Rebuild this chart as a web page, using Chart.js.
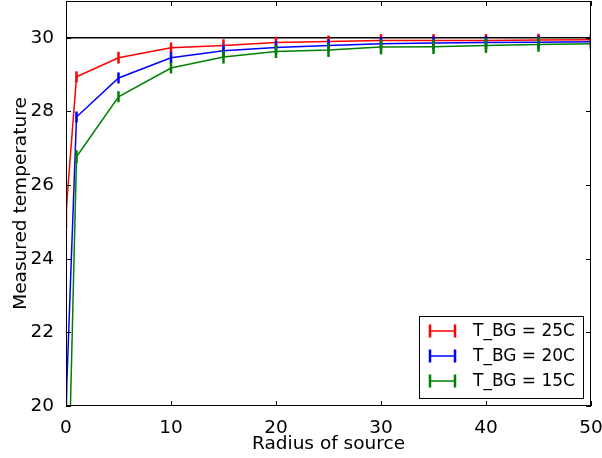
<!DOCTYPE html>
<html>
<head>
<meta charset="utf-8">
<script src="https://cdn.jsdelivr.net/npm/chart.js@4.4.0/dist/chart.umd.min.js"></script>
<style>
  html, body { margin: 0; padding: 0; background: #fff; }
</style>
</head>
<body>
<canvas id="tempChart" width="602" height="458"></canvas>
<script>
/* ================================
   Data
================================ */
const radius = [0, 1, 5, 10, 15, 20, 25, 30, 35, 40, 45, 50];

const temp25 = [25.25, 28.94, 29.46, 29.73, 29.79, 29.87, 29.90, 29.93, 29.93, 29.93, 29.94, 29.95];
const temp20 = [20.0, 27.85, 28.91, 29.46, 29.65, 29.74, 29.79, 29.84, 29.86, 29.87, 29.88, 29.89];
const temp15 = [15.0, 26.77, 28.40, 29.18, 29.48, 29.63, 29.67, 29.75, 29.76, 29.79, 29.82, 29.84];

const err25 = [0.42, 0.15, 0.16, 0.14, 0.17, 0.16, 0.16, 0.17, 0.17, 0.17, 0.17, 0.17];
const err20 = [0.5, 0.15, 0.15, 0.15, 0.17, 0.17, 0.17, 0.18, 0.18, 0.18, 0.18, 0.18];
const err15 = [0.5, 0.18, 0.15, 0.15, 0.18, 0.18, 0.19, 0.20, 0.20, 0.20, 0.20, 0.20];

const refLevel = 30;
const xTicks = [0, 10, 20, 30, 40, 50];
const yTicks = [20, 22, 24, 26, 28, 30];
const seriesLabels = ["T_BG = 25C", "T_BG = 20C", "T_BG = 15C"];

/* ================================
   Helpers
================================ */
const FONT = "'DejaVu Sans', sans-serif";
const toPoints = ys => radius.map((x, i) => ({ x, y: ys[i] }));

function series(label, ys, errs, color, order) {
  return {
    label,
    data: toPoints(ys),
    errors: errs,
    borderColor: color,
    backgroundColor: color,
    borderWidth: 1.5,
    pointRadius: 0,
    tension: 0,
    order
  };
}

// fixed axis box sizes, no overhang padding
function fitBox(prop, size) {
  return s => {
    s[prop] = size;
    s.paddingTop = s.paddingBottom = s.paddingLeft = s.paddingRight = 0;
  };
}

/* ================================
   Plugins
================================ */
const errorBars = {
  id: "errorBars",
  afterDatasetDraw(chart, args) {
    const ds = chart.data.datasets[args.index];
    if (!ds.errors) return;
    const { ctx, chartArea, scales } = chart;
    ctx.save();
    ctx.beginPath();
    ctx.rect(chartArea.left, chartArea.top, chartArea.width, chartArea.height);
    ctx.clip();
    ctx.strokeStyle = ds.borderColor;
    ctx.lineWidth = 2.5;
    ds.data.forEach((p, i) => {
      const px = scales.x.getPixelForValue(p.x);
      ctx.beginPath();
      ctx.moveTo(px, scales.y.getPixelForValue(p.y - ds.errors[i]));
      ctx.lineTo(px, scales.y.getPixelForValue(p.y + ds.errors[i]));
      ctx.stroke();
    });
    ctx.restore();
  }
};

const frameAndLegend = {
  id: "frameAndLegend",
  afterDraw(chart) {
    const { ctx, chartArea: a, scales } = chart;
    ctx.save();

    // frame
    ctx.strokeStyle = "#000";
    ctx.lineWidth = 1;
    ctx.strokeRect(a.left + 0.5, a.top + 0.5, a.width - 1, a.height - 1);

    // inward ticks on all four sides
    const tl = 5;
    ctx.beginPath();
    xTicks.forEach(v => {
      const px = Math.round(scales.x.getPixelForValue(v)) + 0.5;
      ctx.moveTo(px, a.bottom); ctx.lineTo(px, a.bottom - tl);
      ctx.moveTo(px, a.top); ctx.lineTo(px, a.top + tl);
    });
    yTicks.forEach(v => {
      const py = Math.round(scales.y.getPixelForValue(v)) + 0.5;
      ctx.moveTo(a.left, py); ctx.lineTo(a.left + tl, py);
      ctx.moveTo(a.right, py); ctx.lineTo(a.right - tl, py);
    });
    ctx.stroke();

    // legend box (lower right)
    const w = 164, h = 82;
    const bx = a.right - 8 - w, by = a.bottom - 8 - h;
    ctx.fillStyle = "#fff";
    ctx.fillRect(bx, by, w, h);
    ctx.strokeStyle = "#000";
    ctx.lineWidth = 1;
    ctx.strokeRect(bx + 0.5, by + 0.5, w, h);

    ctx.font = "17px " + FONT;
    ctx.textBaseline = "middle";
    ctx.textAlign = "left";
    chart.data.datasets.filter(d => d.errors).forEach((d, i) => {
      const cy = by + 15 + i * 25;
      const x0 = bx + 11, x1 = bx + 36;
      ctx.strokeStyle = d.borderColor;
      ctx.lineWidth = 1.5;
      ctx.beginPath();
      ctx.moveTo(x0, cy); ctx.lineTo(x1, cy);
      ctx.stroke();
      ctx.lineWidth = 2.5;
      ctx.beginPath();
      ctx.moveTo(x0, cy - 6.5); ctx.lineTo(x0, cy + 6.5);
      ctx.moveTo(x1, cy - 6.5); ctx.lineTo(x1, cy + 6.5);
      ctx.stroke();
      ctx.fillStyle = "#000";
      ctx.fillText(d.label, bx + 54, cy + 1);
    });

    ctx.restore();
  }
};

/* ================================
   Chart
================================ */
new Chart(document.getElementById("tempChart"), {
  type: "line",
  data: {
    datasets: [
      series(seriesLabels[0], temp25, err25, "#ff0000", 3),
      series(seriesLabels[1], temp20, err20, "#0000ff", 2),
      series(seriesLabels[2], temp15, err15, "#008000", 1),
      {
        label: "ref",
        data: [{ x: 0, y: refLevel }, { x: 50, y: refLevel }],
        borderColor: "#000",
        borderWidth: 1.5,
        pointRadius: 0,
        order: 4
      }
    ]
  },
  options: {
    responsive: false,
    animation: false,
    devicePixelRatio: 1,
    layout: { padding: { top: 1, right: 11, left: 0, bottom: 0 } },
    plugins: { legend: { display: false }, tooltip: { enabled: false } },
    scales: {
      x: {
        type: "linear",
        min: 0,
        max: 50,
        afterBuildTicks: s => { s.ticks = xTicks.map(v => ({ value: v })); },
        afterFit: fitBox("height", 52),
        grid: { display: false },
        border: { display: false },
        ticks: { color: "#000", padding: 3, font: { family: FONT, size: 18.5 } },
        title: {
          display: true,
          text: "Radius of source",
          color: "#000",
          padding: { top: 0, bottom: 3 },
          font: { family: FONT, size: 18.5 }
        }
      },
      y: {
        type: "linear",
        min: 20,
        max: 31,
        afterBuildTicks: s => { s.ticks = yTicks.map(v => ({ value: v })); },
        afterFit: fitBox("width", 66),
        grid: { display: false },
        border: { display: false },
        ticks: { color: "#000", padding: 4, font: { family: FONT, size: 18.5 } },
        title: {
          display: true,
          text: "Measured temperature",
          color: "#000",
          padding: { top: 10, bottom: 0 },
          font: { family: FONT, size: 18.5 }
        }
      }
    }
  },
  plugins: [errorBars, frameAndLegend]
});
</script>
</body>
</html>
